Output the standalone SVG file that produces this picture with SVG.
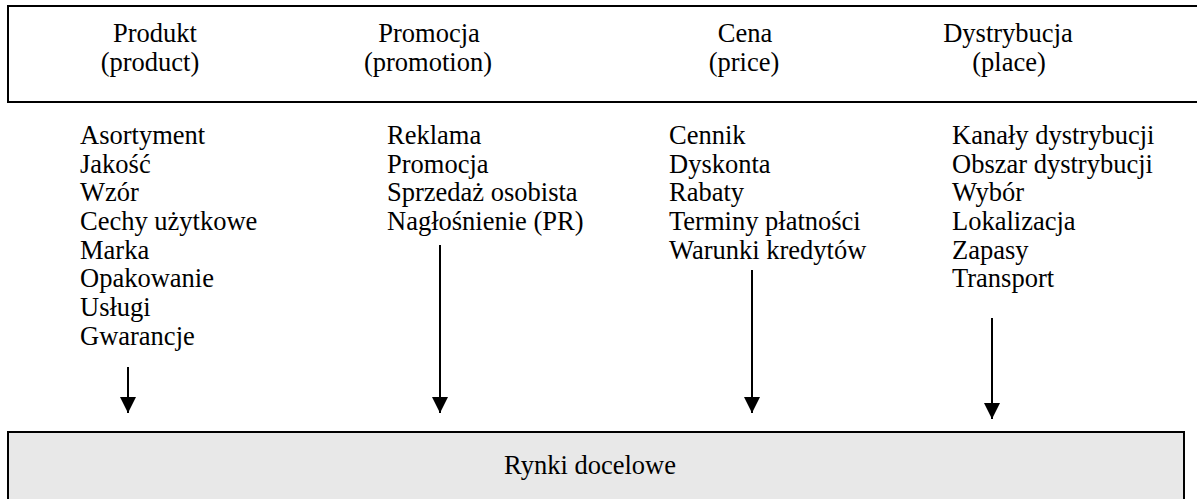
<svg xmlns="http://www.w3.org/2000/svg" width="1197" height="499" viewBox="0 0 1197 499">
<style>
text{font-family:"Liberation Serif","Times New Roman",serif;font-size:26.5px;fill:#000}
.c{text-anchor:middle}
.box{stroke:#000;stroke-width:2}
.conn{stroke:#000;stroke-width:2;fill:none}
</style>
<defs>
<marker id="ah" markerWidth="8" markerHeight="8" refX="8" refY="4" orient="auto" markerUnits="strokeWidth">
<path d="M0,0 L8,4 L0,8 Z" fill="#000"/>
</marker>
</defs>
<rect width="1197" height="499" fill="#fff"/>
<g id="top">
<rect class="box" x="8" y="6" width="1200" height="96" fill="#fff"/>
<text class="c" x="155" y="42">Produkt</text>
<text class="c" x="150" y="71">(product)</text>
<text class="c" x="429" y="42">Promocja</text>
<text class="c" x="428" y="71">(promotion)</text>
<text class="c" x="745" y="42">Cena</text>
<text class="c" x="744" y="71">(price)</text>
<text class="c" x="1008" y="42">Dystrybucja</text>
<text class="c" x="1009" y="71">(place)</text>
</g>
<g id="produkt">
<text x="80" y="144">Asortyment</text>
<text x="80" y="173">Jakość</text>
<text x="80" y="201">Wzór</text>
<text x="80" y="230">Cechy użytkowe</text>
<text x="80" y="259">Marka</text>
<text x="80" y="287">Opakowanie</text>
<text x="80" y="316">Usługi</text>
<text x="80" y="345">Gwarancje</text>
</g>
<g id="promocja">
<text x="387" y="144">Reklama</text>
<text x="387" y="173">Promocja</text>
<text x="387" y="201">Sprzedaż osobista</text>
<text x="387" y="230">Nagłośnienie (PR)</text>
</g>
<g id="cena">
<text x="669" y="144">Cennik</text>
<text x="669" y="173">Dyskonta</text>
<text x="669" y="201">Rabaty</text>
<text x="669" y="230">Terminy płatności</text>
<text x="669" y="259">Warunki kredytów</text>
</g>
<g id="dystrybucja">
<text x="952" y="144">Kanały dystrybucji</text>
<text x="952" y="173">Obszar dystrybucji</text>
<text x="952" y="201">Wybór</text>
<text x="952" y="230">Lokalizacja</text>
<text x="952" y="259">Zapasy</text>
<text x="952" y="287">Transport</text>
</g>
<g id="rynki">
<rect x="8" y="432" width="1176" height="80" fill="#e8e8e8" class="box"/>
<text class="c" x="590" y="474">Rynki docelowe</text>
</g>
<g id="connectors">
<line class="conn" x1="128" y1="367" x2="128" y2="413" marker-end="url(#ah)"/>
<line class="conn" x1="440" y1="245" x2="440" y2="413" marker-end="url(#ah)"/>
<line class="conn" x1="752" y1="270" x2="752" y2="413" marker-end="url(#ah)"/>
<line class="conn" x1="992" y1="318" x2="992" y2="419" marker-end="url(#ah)"/>
</g>
</svg>
